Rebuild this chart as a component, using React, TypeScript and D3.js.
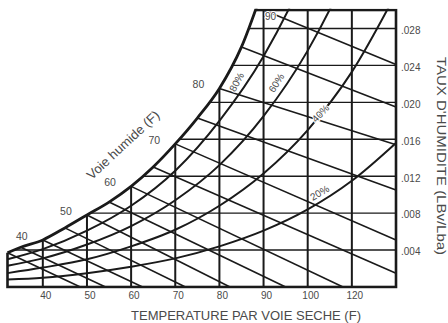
import React from "react";
import * as d3 from "d3";

// ---------- data ----------
const dryBulbTicks = [40, 50, 60, 70, 80, 90, 100, 110];
const dryBulbLabels = ["40", "50", "60", "70", "80", "90", "100", "120"];

const ratioTicks = [0.004, 0.008, 0.012, 0.016, 0.02, 0.024, 0.028];
const ratioLabels = [".004", ".008", ".012", ".016", ".020", ".024", ".028"];

// saturation curve (dry bulb F, humidity ratio)
const satT = [32, 35, 40, 45, 50, 55, 60, 65, 70, 75, 80, 85, 90];
const satW = [0.0037, 0.0043, 0.0051, 0.0064, 0.0078, 0.0092, 0.0109, 0.013, 0.0155, 0.0183, 0.0215, 0.026, 0.0325];

// relative humidity curves
const rhT = [32, 40, 50, 60, 70, 80, 90, 100, 110, 120];
const rh80 = [0.003, 0.0041, 0.0061, 0.0088, 0.0126, 0.018, 0.025, 0.0345, 0.047, 0.064];
const rh60 = [0.0023, 0.0031, 0.0046, 0.0066, 0.0094, 0.0132, 0.0185, 0.0256, 0.0352, 0.048];
const rh40 = [0.0015, 0.0021, 0.003, 0.0044, 0.0062, 0.0088, 0.0123, 0.017, 0.0233, 0.0318];
const rh20 = [0.0008, 0.001, 0.0015, 0.0022, 0.0031, 0.0044, 0.0061, 0.0084, 0.0115, 0.0156];
const rhLabels = ["80%", "60%", "40%", "20%"];
const rhLabelT = [83.9, 92.9, 102.9, 102.7];
const rhLabelW = [0.0222, 0.0221, 0.0188, 0.0102];
const rhLabelAngle = [-62, -58, -46, -31];

// wet bulb lines: start on saturation, end on the chart border
const wbStartT = [32, 35, 40, 45, 50, 55, 60, 65, 70, 75, 80, 85, 90];
const wbStartW = [0.0037, 0.0043, 0.0051, 0.0064, 0.0078, 0.0092, 0.0109, 0.013, 0.0155, 0.0183, 0.0215, 0.026, 0.03];
const wbEndT = [48.5, 54.2, 62.6, 72.3, 82.4, 95, 108, 120, 120, 120, 120, 120, 120];
const wbEndW = [0, 0, 0, 0, 0, 0, 0, 0.0015, 0.0051, 0.0105, 0.0154, 0.0195, 0.0241];

const wbLabelT = [40, 50, 60, 70, 80];
const wbLabelW = [0.0051, 0.0078, 0.0109, 0.0155, 0.0215];
const wbLabels = ["40", "50", "60", "70", "80"];
const topWbLabel = "90";
const topWbT = 90;

const xTitle = "TEMPERATURE PAR VOIE SECHE (F)";
const yTitle = "TAUX D'HUMIDITE (LBv/Lba)";
const curveTitle = "Voie humide (F)";

// ---------- layout ----------
const FONT = "'Liberation Sans', Arial, Helvetica, sans-serif";
const INK = "#1a1a1a";
const TXT = "#4a4a4a";

export default function App() {
  const x = d3.scaleLinear().domain([32, 120]).range([7.5, 396]);
  const y = d3.scaleLinear().domain([0, 0.03]).range([287, 10]);
  const [x0, x1] = x.range();
  const [yb, yt] = y.range();

  const line = d3
    .line<[number, number]>()
    .x((d) => x(d[0]))
    .y((d) => y(d[1]))
    .curve(d3.curveMonotoneX);

  const satPts: [number, number][] = satT.map((t, i) => [t, satW[i]]);
  const satPath = line(satPts) || "";
  const lastSat = satPts[satPts.length - 1];
  const clipD =
    satPath +
    `L${x(lastSat[0])},${yt - 40}L${x1 + 10},${yt - 40}L${x1 + 10},${yb + 10}L${x0 - 10},${yb + 10}L${x0 - 10},${y(satW[0])}Z`;

  const rhSeries = [rh80, rh60, rh40, rh20];

  return (
    <svg width={448} height={323} style={{ display: "block", position: "absolute", left: 0, top: 0 }}>
      <defs>
        <clipPath id="box">
          <rect x={x0 - 2} y={yt - 1.3} width={x1 - x0 + 4} height={yb - yt + 3} />
        </clipPath>
        <clipPath id="under">
          <path d={clipD} />
        </clipPath>
      </defs>
      <rect width={448} height={323} fill="#fff" />
      <g clipPath="url(#box)">
        <g clipPath="url(#under)">
          {ratioTicks.map((r) => (
            <line key={"h" + r} x1={x0} x2={x1} y1={y(r)} y2={y(r)} stroke={INK} strokeWidth={1.4} />
          ))}
          {dryBulbTicks.map((t) => (
            <line key={"v" + t} x1={x(t)} x2={x(t)} y1={yb} y2={yt} stroke={INK} strokeWidth={2} />
          ))}
          {wbStartT.map((t, i) => (
            <line
              key={"wb" + t}
              x1={x(t)}
              y1={y(wbStartW[i])}
              x2={x(wbEndT[i])}
              y2={y(wbEndW[i])}
              stroke={INK}
              strokeWidth={1.6}
            />
          ))}
          {rhSeries.map((s, k) => (
            <path
              key={"rh" + k}
              d={line(rhT.map((t, i) => [t, s[i]] as [number, number])) || ""}
              fill="none"
              stroke={INK}
              strokeWidth={2}
            />
          ))}
          <rect x={x0} y={yt} width={x1 - x0} height={yb - yt} fill="none" stroke={INK} strokeWidth={2.6} />
        </g>
        <path d={satPath} fill="none" stroke={INK} strokeWidth={2.8} />
      </g>

      {/* RH labels */}
      {rhLabels.map((lab, i) => (
        <text
          key={lab}
          transform={`translate(${x(rhLabelT[i])},${y(rhLabelW[i])}) rotate(${rhLabelAngle[i]})`}
          textAnchor="middle"
          dominantBaseline="central"
          fontFamily={FONT}
          fontSize={10}
          fill={TXT}
          stroke="#fff"
          strokeWidth={2.2}
          paintOrder="stroke"
        >
          {lab}
        </text>
      ))}

      {/* wet bulb labels */}
      {wbLabels.map((lab, i) => (
        <text
          key={"wbl" + lab}
          x={x(wbLabelT[i]) - 21}
          y={y(wbLabelW[i])}
          textAnchor="middle"
          fontFamily={FONT}
          fontSize={10.5}
          fill={TXT}
        >
          {lab}
        </text>
      ))}
      <text
        x={x(topWbT) + 1.5}
        y={yt + 10}
        fontFamily={FONT}
        fontSize={10}
        fill={TXT}
        stroke="#fff"
        strokeWidth={2}
        paintOrder="stroke"
      >
        {topWbLabel}
      </text>

      {/* x tick labels */}
      {dryBulbTicks.map((t, i) => (
        <text key={"xl" + t} x={x(t) + 3} y={yb + 11.5} textAnchor="middle" fontFamily={FONT} fontSize={10} fill={TXT}>
          {dryBulbLabels[i]}
        </text>
      ))}
      {/* y tick labels */}
      {ratioTicks.map((r, i) => (
        <text key={"yl" + r} x={x1 + 5} y={y(r) + 5.3} fontFamily={FONT} fontSize={10} fill={TXT}>
          {ratioLabels[i]}
        </text>
      ))}

      <text x={246} y={320} textAnchor="middle" fontFamily={FONT} fontSize={13} fill={TXT}>
        {xTitle}
      </text>
      <text
        transform={`translate(437,156) rotate(90)`}
        textAnchor="middle"
        fontFamily={FONT}
        fontSize={13}
        fill={TXT}
        textLength={198}
        lengthAdjust="spacingAndGlyphs"
      >
        {yTitle}
      </text>
      <text
        transform={`translate(123,145) rotate(-43)`}
        textAnchor="middle"
        dominantBaseline="central"
        fontFamily={FONT}
        fontSize={13}
        fill={TXT}
        textLength={94}
        lengthAdjust="spacingAndGlyphs"
      >
        {curveTitle}
      </text>
    </svg>
  );
}
